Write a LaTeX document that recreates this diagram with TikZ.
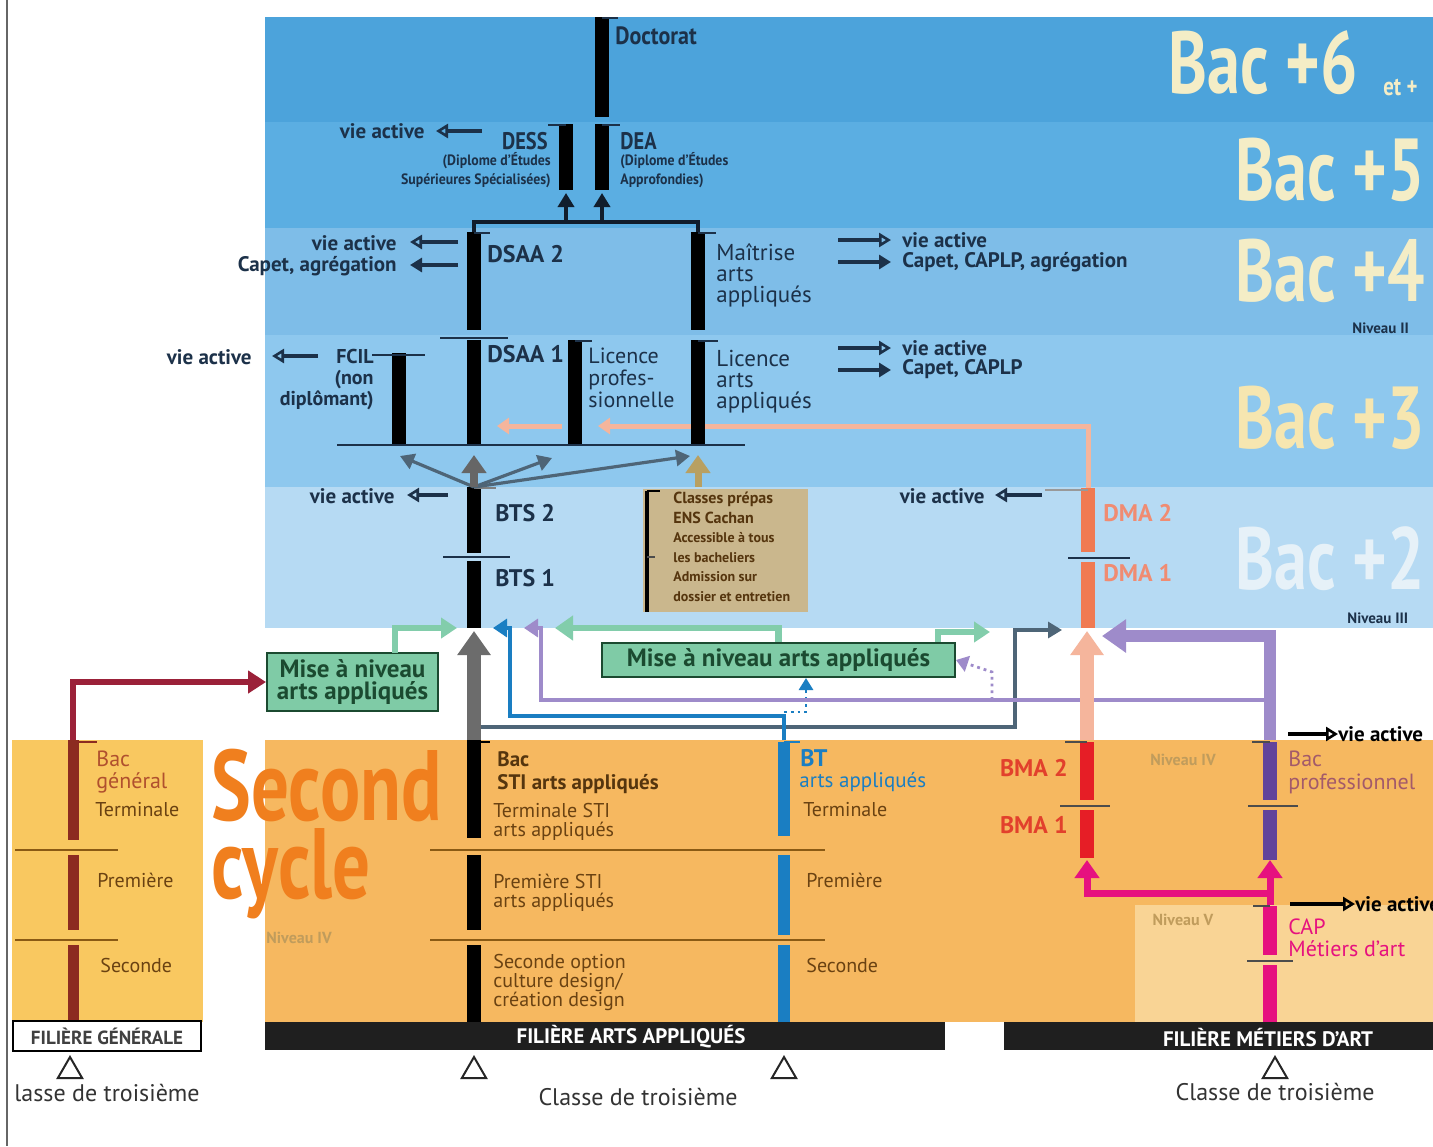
\documentclass[tikz,border=0pt]{standalone}
\usepackage{fontspec}
\setmainfont{PT Sans}
\usetikzlibrary{positioning, calc, shapes.geometric, arrows.meta}

\definecolor{bandsix}{HTML}{4CA3DB}
\definecolor{bandfive}{HTML}{5BAEE2}
\definecolor{bandfour}{HTML}{7EBDE8}
\definecolor{bandthree}{HTML}{8EC8EE}
\definecolor{bandtwo}{HTML}{B6DAF3}
\definecolor{navytxt}{HTML}{1C3149}
\definecolor{bacpale}{HTML}{F4EDC6}
\definecolor{bacpalethree}{HTML}{F6E6B0}
\definecolor{bacpaletwo}{HTML}{E6F1F8}
\definecolor{orangemid}{HTML}{F6B860}
\definecolor{orangeleft}{HTML}{F9C860}
\definecolor{orangelight}{HTML}{F9D495}
\definecolor{browntxt}{HTML}{6A4212}
\definecolor{rusttxt}{HTML}{B0502E}
\definecolor{cycleorange}{HTML}{F07F1E}
\definecolor{niveautxt}{HTML}{C09C5C}
\definecolor{mnfill}{HTML}{7FCBA6}
\definecolor{mnline}{HTML}{82CDAB}
\definecolor{mntxt}{HTML}{1B4A30}
\definecolor{grayarr}{HTML}{6C6C6C}
\definecolor{slate}{HTML}{4E6577}
\definecolor{salmon}{HTML}{F5B59C}
\definecolor{dmacol}{HTML}{F07A52}
\definecolor{dmatxt}{HTML}{F08C72}
\definecolor{bmacol}{HTML}{E61E26}
\definecolor{bmatxt}{HTML}{E2402C}
\definecolor{procol}{HTML}{62449A}
\definecolor{protxt}{HTML}{A35A6A}
\definecolor{lavender}{HTML}{9E8BCA}
\definecolor{capcol}{HTML}{E6117F}
\definecolor{btcol}{HTML}{1A7EC2}
\definecolor{bgcol}{HTML}{8C2B20}
\definecolor{crimson}{HTML}{9B2139}
\definecolor{tanbox}{HTML}{CAB78D}
\definecolor{tanarr}{HTML}{B8A062}
\definecolor{sepbrown}{HTML}{8A5A14}

\begin{document}
\begin{tikzpicture}[x=0.5pt, y=-0.5pt,
  bar/.style={line width=7pt},
  sep/.style={line width=1.2pt, navytxt},
  lbl/.style={inner sep=0pt, text=navytxt, align=left, font=\fontsize{11.5}{10.5}\selectfont},
  blbl/.style={inner sep=0pt, text=navytxt, font=\fontsize{12}{12}\selectfont\bfseries},
  valbl/.style={inner sep=0pt, text=navytxt, font=\fontsize{10.5}{11}\selectfont\bfseries},
  tiny/.style={inner sep=0pt, text=navytxt, font=\fontsize{7.5}{9.5}\selectfont\bfseries},
  brn/.style={inner sep=0pt, text=browntxt, align=left, font=\fontsize{10}{9.5}\selectfont},
  baclbl/.style={inner sep=0pt, anchor=base east, text=bacpale, font=\fontsize{44}{44}\selectfont\bfseries},
  niv/.style={inner sep=0pt, text=niveautxt, font=\fontsize{8}{9}\selectfont\bfseries},
  vaopen/.style={line width=2pt, navytxt, -{Triangle[open, length=6pt, width=7pt, line width=1.3pt]}},
  vafill/.style={line width=2pt, navytxt, -{Triangle[length=6pt, width=7pt]}},
  thinarr/.style={line width=1.6pt, -{Triangle[length=7pt, width=8pt]}},
  midarr/.style={line width=2.6pt, -{Triangle[length=8pt, width=10pt]}},
  bigarr/.style={line width=7pt, -{Triangle[length=12pt, width=16pt]}},
  mnbox/.style={draw=mntxt, line width=1pt, fill=mnfill, text=mntxt, inner sep=0pt},
  tri/.style={regular polygon, regular polygon sides=3, draw=black!85, line width=1pt, minimum size=14pt, inner sep=0pt},
  filiere/.style={fill=black!88, minimum height=14pt, inner sep=0pt}
]
\useasboundingbox (0,0) rectangle (1433,1146);
\clip (0,0) rectangle (1433,1146);
\fill[white] (0,0) rectangle (1433,1146);
\draw[black!60, line width=0.6pt] (7,0) -- (7,1146);

% bands
\fill[bandsix] (265,17) rectangle (1440,122);
\fill[bandfive] (265,122) rectangle (1440,228);
\fill[bandfour] (265,228) rectangle (1440,335);
\fill[bandthree] (265,335) rectangle (1440,487);
\fill[bandtwo] (265,487) rectangle (1440,628);
\fill[orangeleft] (12,740) rectangle (203,1022);
\fill[orangemid] (265,740) rectangle (1440,1022);
\fill[orangelight] (1135,905) rectangle (1440,1022);

% Bac +n
\node (bsix) at (1358,93) [baclbl] {\scalebox{0.75}[1]{Bac +6}};
\node (etplus) at (1383,95) [anchor=base west, inner sep=0pt, text=bacpale, font=\fontsize{13}{13}\selectfont\bfseries] {\scalebox{0.8}[1]{et +}};
\node (bfive) at (1425,200) [baclbl] {\scalebox{0.75}[1]{Bac +5}};
\node (bfour) at (1425,301) [baclbl] {\scalebox{0.75}[1]{Bac +4}};
\node (bthree) at (1425,448) [baclbl, text=bacpalethree] {\scalebox{0.75}[1]{Bac +3}};
\node (btwo) at (1425,589) [baclbl, text=bacpaletwo] {\scalebox{0.75}[1]{Bac +2}};
\node (nivii) at (1352,328) [tiny, anchor=west] {Niveau II};
\node (niviii) at (1347,618) [tiny, anchor=west] {Niveau III};

% coordinates
\coordinate (dsaaTop) at (474,232);
\coordinate (maitTop) at (698,232);
\coordinate (dessBot) at (566,193);
\coordinate (deaBot) at (602,193);
\coordinate (btsTop) at (474,487);
\coordinate (btsBot) at (474,631);
\coordinate (stiTop) at (474,740);
\coordinate (btTop) at (784,740);
\coordinate (dmaTop) at (1088,488);
\coordinate (dmaBot) at (1087,631);
\coordinate (bmaTop) at (1087,740);
\coordinate (bmaBot) at (1087,860);
\coordinate (proTop) at (1270,740);
\coordinate (proBot) at (1270,860);
\coordinate (capTop) at (1270,905);
\coordinate (bgTop) at (73,740);

% lines behind the bars
\draw[salmon, line width=2.5pt, -{Triangle[length=6pt, width=8pt]}] (dmaTop) -- (1088,426) -- (598,426);
\draw[salmon, line width=2.5pt, -{Triangle[length=6pt, width=8pt]}] (562,426) -- (497,426);
\draw[line width=2pt, navytxt!60!black] (dsaaTop) -- (474,222) -- (698,222) -- (maitTop);
\draw[thinarr, navytxt!60!black, line width=2pt] (566,222) -- (dessBot);
\draw[thinarr, navytxt!60!black, line width=2pt] (602,222) -- (deaBot);

% bars, blue part
\draw[bar, black] (602,17) -- (602,117);
\draw[bar, black] (602,124) -- (602,190);
\draw[bar, black] (566,124) -- (566,190);
\draw[bar, black] (474,232) -- (474,330);
\draw[bar, black] (474,340) -- (474,445);
\draw[bar, black] (698,232) -- (698,330);
\draw[bar, black] (698,340) -- (698,445);
\draw[bar, black] (575,340) -- (575,445);
\draw[bar, black] (399,353) -- (399,445);
\draw[bar, black] (474,487) -- (474,553);
\draw[bar, black] (474,561) -- (474,628);
\draw[bar, dmacol] (1088,488) -- (1088,552);
\draw[bar, dmacol] (1088,562) -- (1088,628);

% separators
\draw[sep] (602,18) -- (618,18);
\draw[sep] (548,125) -- (566,125);
\draw[sep] (602,125) -- (620,125);
\draw[sep] (474,233) -- (490,233);
\draw[sep] (698,233) -- (716,233);
\draw[sep] (440,338) -- (508,338);
\draw[sep] (575,341) -- (592,341);
\draw[sep] (698,341) -- (718,341);
\draw[sep] (372,355) -- (425,355);
\draw[sep] (337,445) -- (745,445);
\draw[sep, black!50] (474,488) -- (496,488);
\draw[sep] (443,557) -- (510,557);
\draw[sep, black!40] (1045,490) -- (1088,490);
\draw[sep] (1068,558) -- (1130,558);

% blue part labels
\node (doct) at (615,36) [blbl, anchor=west, font=\fontsize{12.5}{13}\selectfont\bfseries] {\scalebox{0.88}[1]{Doctorat}};
\node (dess) at (548,141) [blbl, anchor=east] {\scalebox{0.85}[1]{DESS}};
\node (dessl) at (551,152) [tiny, anchor=north east, align=right] {\scalebox{0.92}[1]{(Diplome d'Études}\\\scalebox{0.92}[1]{Supérieures Spécialisées)}};
\node (dea) at (620,141) [blbl, anchor=west] {\scalebox{0.85}[1]{DEA}};
\node (deal) at (620,152) [tiny, anchor=north west, align=left] {\scalebox{0.92}[1]{(Diplome d'Études}\\\scalebox{0.92}[1]{Approfondies)}};
\node (dsaatwo) at (487,254) [blbl, anchor=west] {DSAA 2};
\node (dsaaone) at (487,354) [blbl, anchor=west] {DSAA 1};
\node (mait) at (716,243) [lbl, anchor=north west] {Maîtrise\\arts\\appliqués};
\node (licaa) at (716,350) [lbl, anchor=north west] {Licence\\arts\\appliqués};
\node (licpro) at (588,348) [lbl, anchor=north west, font=\fontsize{11}{11}\selectfont] {Licence\\profes-\\sionnelle};
\node (fcil) at (374,349) [valbl, anchor=north east, align=right, font=\fontsize{10}{10.5}\selectfont\bfseries] {FCIL\\(non\\diplômant)};
\node (btstwo) at (495,513) [blbl, anchor=west] {BTS 2};
\node (btsone) at (495,578) [blbl, anchor=west] {BTS 1};
\node (dmatwo) at (1103,513) [blbl, anchor=west, text=dmatxt] {DMA 2};
\node (dmaone) at (1103,573) [blbl, anchor=west, text=dmatxt] {DMA 1};

% vie active
\node (vadess) at (425,131) [valbl, anchor=east] {vie active};
\draw[vaopen] (482,131) -- (436,131);
\node (vadsaa) at (397,243) [valbl, anchor=east] {vie active};
\node (capdsaa) at (397,266) [valbl, anchor=east] {Capet, agrégation};
\draw[vaopen] (458,242) -- (410,242);
\draw[vafill] (458,265) -- (410,265);
\node (vafcil) at (252,357) [valbl, anchor=east] {vie active};
\draw[vaopen] (318,356) -- (272,356);
\node (vabts) at (395,496) [valbl, anchor=east] {vie active};
\draw[vaopen] (448,495) -- (407,495);
\node (vadma) at (985,496) [valbl, anchor=east] {vie active};
\draw[vaopen] (1042,495) -- (995,495);
\node (vamait) at (902,240) [valbl, anchor=west] {vie active};
\node (capmait) at (902,262) [valbl, anchor=west] {Capet, CAPLP, agrégation};
\draw[vaopen] (838,240) -- (891,240);
\draw[vafill] (838,262) -- (891,262);
\node (valic) at (902,348) [valbl, anchor=west] {vie active};
\node (caplic) at (902,369) [valbl, anchor=west] {Capet, CAPLP};
\draw[vaopen] (838,348) -- (891,348);
\draw[vafill] (838,370) -- (891,370);

% arrows from BTS
\draw[thinarr, slate] (btsTop) -- (400,456);
\draw[thinarr, slate] (btsTop) -- (552,458);
\draw[thinarr, slate] (btsTop) -- (690,456);
\draw[midarr, black!60, line width=4pt, -{Triangle[length=9pt, width=12pt]}] (btsTop) -- (474,455);
\draw[midarr, tanarr, line width=3.5pt, -{Triangle[length=9pt, width=12pt]}] (698,487) -- (698,455);

% classes prepas
\node (prepa) at (725.5,550.5) [fill=tanbox, minimum width=82.5pt, minimum height=61.5pt, inner sep=0pt] {};
\draw[line width=2pt, black] (647,491) -- (647,612);
\draw[line width=1pt, black] (647,491) -- (660,491);
\draw[line width=1pt, black!70] (647,557) -- (655,557);
\node (prepatxt) at (673,492) [anchor=north west, inner sep=0pt, align=left, text=browntxt!80!black, font=\fontsize{8}{9.75}\selectfont\bfseries] {Classes prépas\\ENS Cachan\\{\fontsize{7}{9.75}\selectfont Accessible à tous}\\{\fontsize{7}{9.75}\selectfont les bacheliers}\\{\fontsize{7}{9.75}\selectfont Admission sur}\\{\fontsize{7}{9.75}\selectfont dossier et entretien}};

% mise a niveau boxes
\node (mnl) at (352.5,682) [mnbox, minimum width=85.5pt, minimum height=29pt, align=center, font=\fontsize{12.5}{11}\selectfont\bfseries] {Mise à niveau\\arts appliqués};
\node (mnm) at (778.5,660) [mnbox, minimum width=176.5pt, minimum height=17pt, font=\fontsize{12.5}{13}\selectfont\bfseries] {Mise à niveau arts appliqués};

% white zone connectors
\draw[crimson, line width=2.6pt, -{Triangle[length=9pt, width=11pt]}] (bgTop) |- (mnl.west);
\draw[mnline, midarr] (395,653) |- (457,628);
\draw[mnline, line width=3.2pt, -{Triangle[length=9pt, width=12pt]}] (mnm.north) |- (555,628);
\draw[mnline, midarr] ($(mnm.north east)+(-18,0)$) |- (990,632);
\draw[slate, thinarr] (474,727) -| (1015,630) -- (1062,630);
\draw[btcol, line width=1.6pt, -{Triangle[length=7pt, width=9pt]}] (btTop) -- (784,716) -| (510,628) -- (493,628);
\draw[btcol, line width=1.4pt, dotted, -{Triangle[length=6pt, width=7pt]}] (784,712) -- (806,712) -- (mnm.south -| 806,0);
\draw[lavender, line width=1.6pt, -{Triangle[length=7pt, width=9pt]}] (1270,700) -| (541,628) -- (524,628);
\draw[lavender, line width=1.4pt, dotted, -{Triangle[length=6pt, width=8pt]}] (992,700) -- (992,672) -- (mnm.east);
\draw[lavender, line width=6pt, -{Triangle[length=12pt, width=16pt]}] (proTop) |- (1102,636);
\draw[grayarr, bigarr] (stiTop) -- (btsBot);
\draw[salmon, bigarr] (bmaTop) -- (dmaBot);

% bars, orange part
\draw[bgcol, line width=5.5pt] (73,740) -- (73,840);
\draw[bgcol, line width=5.5pt] (73,855) -- (73,930);
\draw[bgcol, line width=5.5pt] (73,945) -- (73,1022);
\draw[bar, black] (474,740) -- (474,838);
\draw[bar, black] (474,855) -- (474,930);
\draw[bar, black] (474,945) -- (474,1022);
\draw[btcol, line width=6pt] (784,742) -- (784,836);
\draw[btcol, line width=6pt] (784,855) -- (784,935);
\draw[btcol, line width=6pt] (784,945) -- (784,1022);
\draw[bar, bmacol] (1087,742) -- (1087,800);
\draw[bar, bmacol] (1087,810) -- (1087,858);
\draw[bar, procol] (1270,742) -- (1270,800);
\draw[bar, procol] (1270,810) -- (1270,860);
\draw[bar, capcol] (1270,906) -- (1270,955);
\draw[bar, capcol] (1270,965) -- (1270,1022);
\draw[capcol, line width=3.5pt, -{Triangle[length=9pt, width=12pt]}] (capTop) -- (proBot);
\draw[capcol, line width=3.5pt, -{Triangle[length=9pt, width=12pt]}] (1270,893) -| (bmaBot);

% separators orange part
\draw[sep, bgcol] (73,742) -- (97,742);
\draw[sep, sepbrown] (15,850) -- (118,850);
\draw[sep, sepbrown] (15,940) -- (118,940);
\draw[sep, black] (474,742) -- (490,742);
\draw[sep, sepbrown] (430,850) -- (825,850);
\draw[sep, sepbrown] (430,940) -- (825,940);
\draw[sep, btcol] (784,742) -- (800,742);
\draw[sep, black!70] (1065,742) -- (1087,742);
\draw[sep, black!70] (1060,806) -- (1110,806);
\draw[sep, black!70] (1252,742) -- (1270,742);
\draw[sep, black!70] (1248,806) -- (1298,806);
\draw[sep, black!70] (1253,906) -- (1270,906);
\draw[sep, black!70] (1247,961) -- (1293,961);

% labels orange part
\node (seccyc) at (211,820) [anchor=base west, inner sep=0pt, text=cycleorange, font=\fontsize{50}{50}\selectfont\bfseries] {\scalebox{0.75}[1]{Second}};
\node (cyc) at (211,898) [anchor=base west, inner sep=0pt, text=cycleorange, font=\fontsize{50}{50}\selectfont\bfseries] {\scalebox{0.75}[1]{cycle}};
\node (bacg) at (96,751) [anchor=north west, inner sep=0pt, align=left, text=rusttxt, font=\fontsize{11}{11}\selectfont] {Bac\\général};
\node (termg) at (95,810) [brn, anchor=west] {Terminale};
\node (premg) at (97,880) [brn, anchor=west] {Première};
\node (secg) at (100,965) [brn, anchor=west] {Seconde};
\node (bacsti) at (497,751) [anchor=north west, inner sep=0pt, align=left, text=browntxt!80!black, font=\fontsize{10.5}{11.5}\selectfont\bfseries] {Bac\\STI arts appliqués};
\node (termsti) at (493,803) [brn, anchor=north west] {Terminale STI\\arts appliqués};
\node (premsti) at (493,874) [brn, anchor=north west] {Première STI\\arts appliqués};
\node (secsti) at (493,954) [brn, anchor=north west] {Seconde option\\culture design/\\création design};
\node (bt) at (800,758) [anchor=west, inner sep=0pt, text=btcol, font=\fontsize{12}{12}\selectfont\bfseries] {BT};
\node (btaa) at (799,782) [anchor=west, inner sep=0pt, text=btcol, font=\fontsize{10.5}{11}\selectfont] {arts appliqués};
\node (termbt) at (803,810) [brn, anchor=west] {Terminale};
\node (prembt) at (806,880) [brn, anchor=west] {Première};
\node (secbt) at (806,965) [brn, anchor=west] {Seconde};
\node (bmatwo) at (1068,768) [blbl, anchor=east, text=bmatxt] {BMA 2};
\node (bmaone) at (1068,825) [blbl, anchor=east, text=bmatxt] {BMA 1};
\node (nivfour) at (1183,760) [niv] {Niveau IV};
\node (nivfive) at (1183,920) [niv] {Niveau V};
\node (nivfourl) at (266,938) [niv, anchor=west] {Niveau IV};
\node (bacpro) at (1288,751) [anchor=north west, inner sep=0pt, align=left, text=protxt, font=\fontsize{11}{11.5}\selectfont] {Bac\\professionnel};
\node (cap) at (1288,918) [anchor=north west, inner sep=0pt, align=left, text=capcol, font=\fontsize{11}{11}\selectfont] {CAP\\Métiers d'art};
\node (vapro) at (1338,734) [valbl, anchor=west, text=black] {vie active};
\draw[vaopen, black] (1288,734) -- (vapro.west);
\node (vacap) at (1355,904) [valbl, anchor=west, text=black] {vie active};
\draw[vaopen, black] (1290,904) -- (vacap.west);

% bottom
\node (fg) at (107,1036) [draw=black, line width=1.2pt, fill=white, minimum width=94pt, minimum height=15pt, inner sep=0pt, text=black!75, font=\fontsize{9.5}{10}\selectfont\bfseries] {FILIÈRE GÉNÉRALE};
\node (faa) at (605,1036) [filiere, minimum width=340pt] {};
\node (faat) at (631,1037) [inner sep=0pt, text=white, font=\fontsize{10.5}{11}\selectfont\bfseries] {FILIÈRE ARTS APPLIQUÉS};
\node (fma) at (1222,1036) [filiere, minimum width=218pt] {};
\node (fmat) at (1268,1037) [inner sep=0pt, text=white, font=\fontsize{10.5}{11}\selectfont\bfseries] {FILIÈRE MÉTIERS D'ART};
\node (tone) at (70,1071) [tri] {};
\node (ttwo) at (474,1071) [tri] {};
\node (tthree) at (784,1071) [tri] {};
\node (tfour) at (1275,1071) [tri] {};
\node (cl1) at (14,1093) [anchor=west, inner sep=0pt, text=black!80, font=\fontsize{12}{12}\selectfont] {lasse de troisième};
\node (cl2) at (638,1097) [inner sep=0pt, text=black!80, font=\fontsize{12}{12}\selectfont] {Classe de troisième};
\node (cl3) at (1275,1092) [inner sep=0pt, text=black!80, font=\fontsize{12}{12}\selectfont] {Classe de troisième};
\end{tikzpicture}
\end{document}
